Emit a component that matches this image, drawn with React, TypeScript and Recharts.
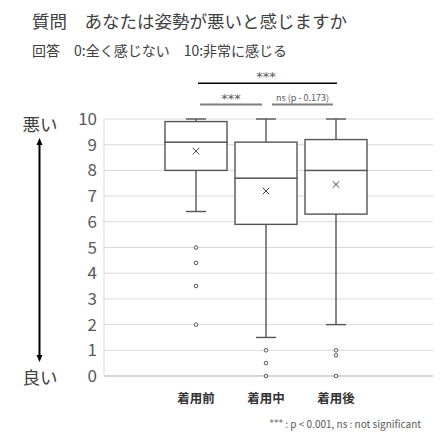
import {
  Bar,
  CartesianGrid,
  ComposedChart,
  Line,
  XAxis,
  YAxis,
} from "recharts";

const categories = ["着用前", "着用中", "着用後"];
const whiskerLow = [6.4, 1.5, 2];
const q1 = [8, 5.9, 6.3];
const median = [9.1, 7.7, 8];
const q3 = [9.9, 9.1, 9.2];
const whiskerHigh = [10, 10, 10];
const means = [8.75, 7.2, 7.45];
const outliers = [
  [5, 4.4, 3.5, 2],
  [1, 0.5, 0],
  [1, 0.8, 0],
];
const yTicks = [0, 1, 2, 3, 4, 5, 6, 7, 8, 9, 10];

const rows = categories.map((name, i) => ({
  name,
  base: whiskerLow[i],
  lowW: q1[i] - whiskerLow[i],
  lowBox: median[i] - q1[i],
  highBox: q3[i] - median[i],
  highW: whiskerHigh[i] - q3[i],
  mean: means[i],
  o0: outliers[i][0] ?? null,
  o1: outliers[i][1] ?? null,
  o2: outliers[i][2] ?? null,
  o3: outliers[i][3] ?? null,
}));

const FONT = '"Noto Sans CJK JP", "Noto Sans", sans-serif';
const BOX = "#555555";
const CAP = 10;

const WhiskerLow = (p: any) => {
  const cx = p.x + p.width / 2;
  const yb = p.y + p.height;
  return (
    <g>
      <line x1={cx} x2={cx} y1={p.y} y2={yb} stroke={BOX} strokeWidth={1.4} />
      <line x1={cx - CAP} x2={cx + CAP} y1={yb} y2={yb} stroke={BOX} strokeWidth={1.4} />
    </g>
  );
};

const WhiskerHigh = (p: any) => {
  const cx = p.x + p.width / 2;
  return (
    <g>
      <line x1={cx} x2={cx} y1={p.y} y2={p.y + p.height} stroke={BOX} strokeWidth={1.4} />
      <line x1={cx - CAP} x2={cx + CAP} y1={p.y} y2={p.y} stroke={BOX} strokeWidth={1.4} />
    </g>
  );
};

const BoxPart = (p: any) => (
  <rect
    x={p.x}
    y={p.y}
    width={p.width}
    height={p.height}
    fill="#fff"
    stroke={BOX}
    strokeWidth={1.4}
  />
);

const MeanMark = (p: any) => {
  if (typeof p.cy !== "number" || typeof p.cx !== "number")
    return <g key={p.key ?? p.index} />;
  const s = 3.3;
  return (
    <g key={p.key ?? p.index}>
      <line x1={p.cx - s} y1={p.cy - s} x2={p.cx + s} y2={p.cy + s} stroke="#404040" strokeWidth={1} />
      <line x1={p.cx - s} y1={p.cy + s} x2={p.cx + s} y2={p.cy - s} stroke="#404040" strokeWidth={1} />
    </g>
  );
};

const OutlierDot = (p: any) => {
  if (typeof p.cy !== "number" || typeof p.cx !== "number" || p.value == null)
    return <g key={p.key ?? p.index} />;
  return (
    <circle
      key={p.key ?? p.index}
      cx={p.cx}
      cy={p.cy}
      r={1.8}
      fill="#fff"
      stroke={BOX}
      strokeWidth={1}
    />
  );
};

export default function App() {
  return (
    <div
      style={{
        position: "absolute",
        left: 0,
        top: 0,
        width: 441,
        height: 435,
        background: "#fff",
        fontFamily: FONT,
      }}
    >
      <ComposedChart
        width={441}
        height={435}
        data={rows}
        margin={{ top: 119, right: 8, left: 0, bottom: 29 }}
      >
        <CartesianGrid vertical={false} stroke="#d9d9d9" />
        <XAxis
          dataKey="name"
          height={30}
          padding={{ left: 57, right: 62 }}
          tickLine={false}
          tickSize={0}
          tickMargin={18}
          axisLine={{ stroke: "#bfbfbf" }}
          tick={{ fill: "#333", fontSize: 12.5, fontWeight: 700, fontFamily: FONT }}
        />
        <YAxis
          type="number"
          domain={[0, 10]}
          ticks={yTicks}
          interval={0}
          width={104}
          tickLine={false}
          tickSize={0}
          tickMargin={7}
          axisLine={{ stroke: "#d9d9d9" }}
          tick={{ fill: "#595959", fontSize: 17, fontFamily: FONT }}
        />
        <Bar dataKey="base" stackId="box" barSize={62} fill="none" isAnimationActive={false} />
        <Bar dataKey="lowW" stackId="box" barSize={62} shape={WhiskerLow} isAnimationActive={false} />
        <Bar dataKey="lowBox" stackId="box" barSize={62} shape={BoxPart} isAnimationActive={false} />
        <Bar dataKey="highBox" stackId="box" barSize={62} shape={BoxPart} isAnimationActive={false} />
        <Bar dataKey="highW" stackId="box" barSize={62} shape={WhiskerHigh} isAnimationActive={false} />
        <Line dataKey="mean" stroke="none" dot={(p: any) => <MeanMark {...p} />} activeDot={false} isAnimationActive={false} />
        {["o0", "o1", "o2", "o3"].map((k) => (
          <Line
            key={k}
            dataKey={k}
            stroke="none"
            connectNulls={false}
            dot={(p: any) => <OutlierDot {...p} />}
            activeDot={false}
            isAnimationActive={false}
          />
        ))}
      </ComposedChart>

      <svg
        width={441}
        height={435}
        style={{ position: "absolute", left: 0, top: 0, pointerEvents: "none" }}
        fontFamily={FONT}
      >
        <text x={32} y={20} fontSize={17.5} fill="#404040" dominantBaseline="central">
          質問　あなたは姿勢が悪いと感じますか
        </text>
        <text x={32} y={50} fontSize={14} fill="#404040" dominantBaseline="central">
          回答　0:全く感じない　10:非常に感じる
        </text>

        <text x={266} y={76} fontSize={13} fill="#595959" textAnchor="middle" dominantBaseline="central" fontFamily="DejaVu Sans">***</text>
        <line x1={198} x2={337} y1={83.3} y2={83.3} stroke="#000" strokeWidth={1.5} />
        <text x={231} y={98} fontSize={13} fill="#595959" textAnchor="middle" dominantBaseline="central" fontFamily="DejaVu Sans">***</text>
        <text x={302.5} y={97} fontSize={9} fill="#595959" textAnchor="middle" dominantBaseline="central">ns (p - 0.173)</text>
        <line x1={200} x2={262} y1={104.5} y2={104.5} stroke="#7f7f7f" strokeWidth={2} />
        <line x1={272} x2={333} y1={104.5} y2={104.5} stroke="#7f7f7f" strokeWidth={2} />

        <text x={40} y={123} fontSize={17.5} fill="#404040" textAnchor="middle" dominantBaseline="central">悪い</text>
        <text x={40} y={376} fontSize={17.5} fill="#404040" textAnchor="middle" dominantBaseline="central">良い</text>
        <line x1={39.5} x2={39.5} y1={144} y2={356} stroke="#000" strokeWidth={2} />
        <polygon points="39.5,138 36.5,145 42.5,145" fill="#000" />
        <polygon points="39.5,362 36.5,355 42.5,355" fill="#000" />

        <text x={421} y={423} fontSize={10} fill="#595959" textAnchor="end" dominantBaseline="central">
          <tspan fontFamily="DejaVu Sans" fontSize={9}>***</tspan>
          {" : p < 0.001, ns : not significant"}
        </text>
      </svg>
    </div>
  );
}
